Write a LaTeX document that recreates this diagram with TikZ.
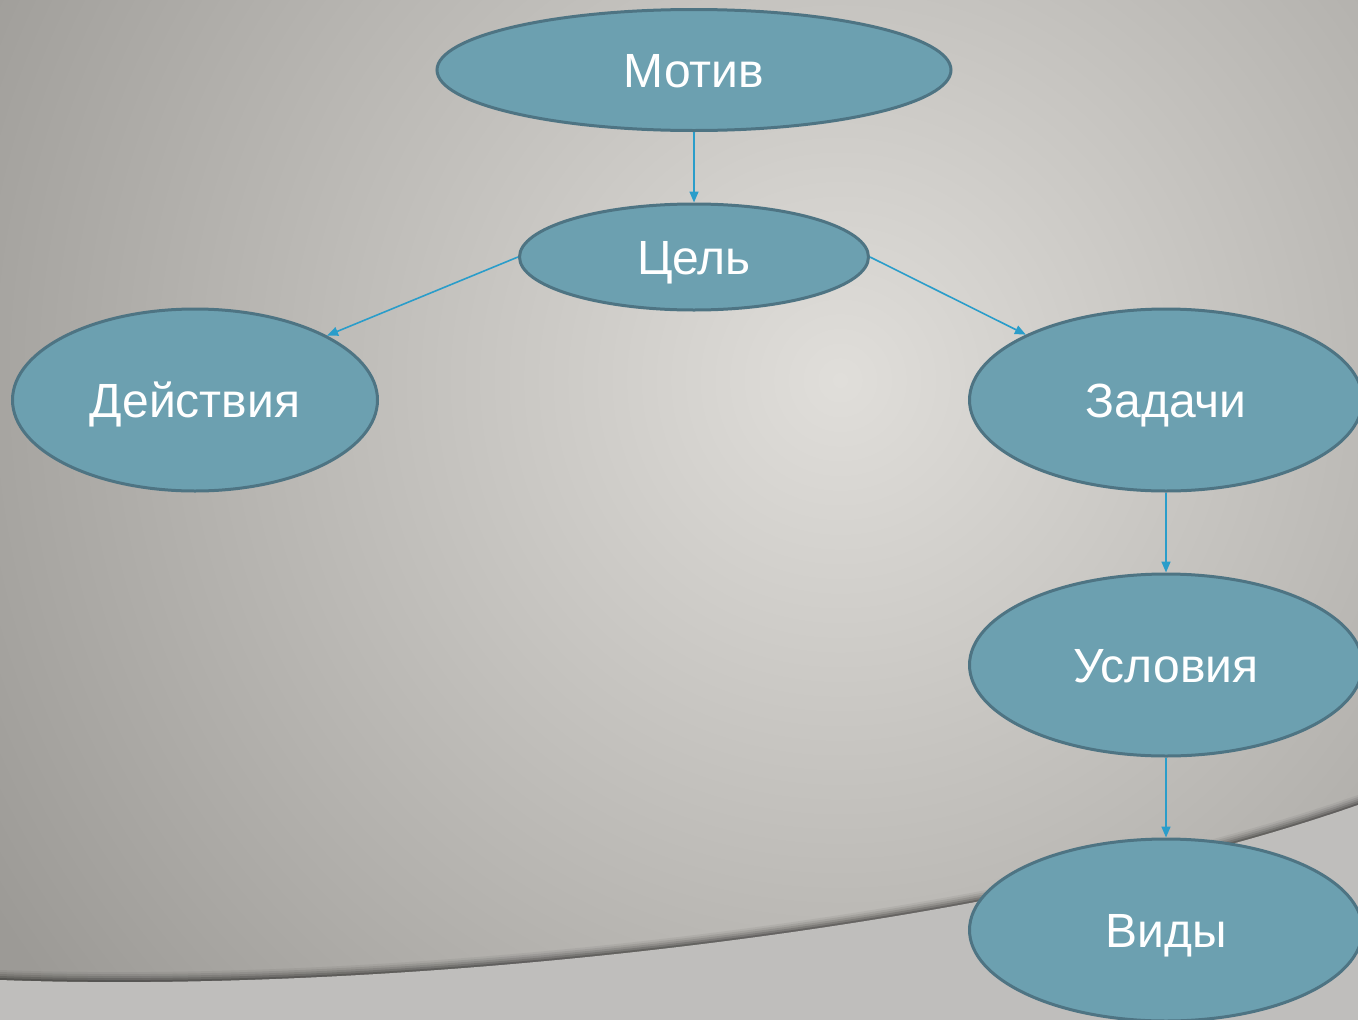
\documentclass[tikz,border=0pt]{standalone}
\usepackage{fontspec}
\setmainfont{Liberation Sans}
\usetikzlibrary{shapes.geometric,arrows.meta}
\definecolor{bgLight}{HTML}{E0DEDA}
\definecolor{bgDark}{HTML}{9C9A96}
\definecolor{bandGray}{HTML}{BFBEBC}
\definecolor{ovalFill}{HTML}{6CA0B0}
\definecolor{ovalLine}{HTML}{4E7483}
\definecolor{arrowBlue}{HTML}{2A9DCA}
\tikzset{
  oval/.style={ellipse, draw=ovalLine, line width=3pt, fill=ovalFill, inner sep=0pt,
    text=white, font=\fontsize{48}{56}\selectfont, text height=35pt, text depth=0pt},
  link/.style={draw=arrowBlue, line width=1.6pt, -{Triangle[length=11pt,width=9pt]}}
}
\begin{document}
\begin{tikzpicture}[x=1pt,y=-1pt]
\useasboundingbox (0,0) rectangle (1358,1020);
\clip (0,0) rectangle (1358,1020);
% background
\fill[bgDark] (0,0) rectangle (1358,1020);
\shade[inner color=bgLight, outer color=bgDark] (840,380) circle (1000);
% lower band with shadow
\foreach \o/\op in {10/0.05,8/0.08,6/0.1,4/0.14,2/0.18}{
  \fill[black, opacity=\op] (0,980-\o) .. controls (400,995-\o) and (1000,930-\o) .. (1358,805-\o) -- (1358,1020) -- (0,1020) -- cycle;
}
\fill[bandGray] (0,980) .. controls (400,995) and (1000,930) .. (1358,805) -- (1358,1020) -- (0,1020) -- cycle;
% nodes
\node[oval, minimum width=514pt, minimum height=121pt] (motiv) at (694,70) {Мотив};
\node[oval, minimum width=349pt, minimum height=106pt] (cel) at (694,257) {Цель};
\node[oval, minimum width=365pt, minimum height=182pt] (dey) at (195,400) {Действия};
\node[oval, minimum width=393pt, minimum height=182pt] (zad) at (1166,400) {Задачи};
\node[oval, minimum width=393pt, minimum height=182pt] (usl) at (1166,665) {Условия};
\node[oval, minimum width=393pt, minimum height=182pt] (vid) at (1166,930) {Виды};
% connectors
\draw[link] (motiv.south) -- (cel.north);
\draw[link] (cel.west) -- (dey.26.6);
\draw[link] (cel.east) -- (zad.155.3);
\draw[link] (zad.south) -- (usl.north);
\draw[link] (usl.south) -- (vid.north);
\end{tikzpicture}
\end{document}
